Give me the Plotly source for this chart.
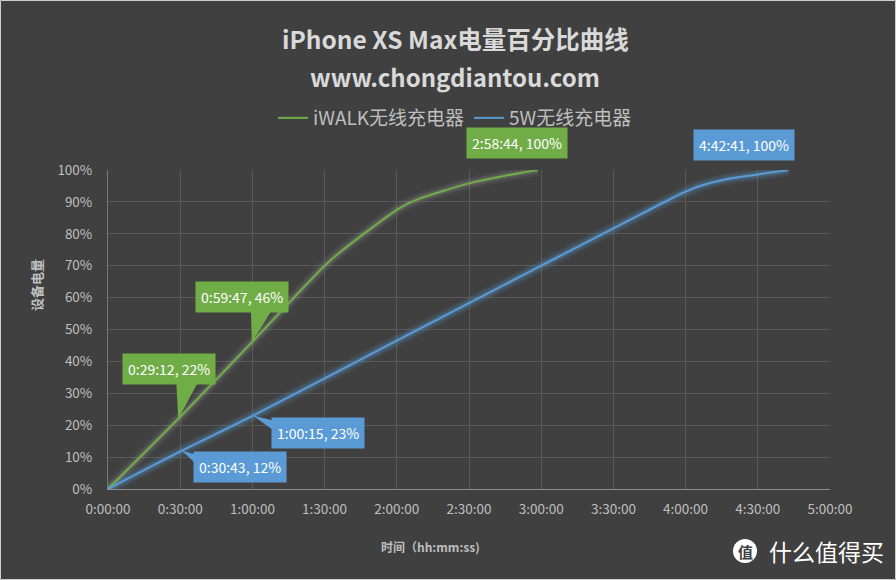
import plotly.graph_objects as go

# ---------------- data ----------------
green_name = "iWALK无线充电器"
blue_name = "5W无线充电器"

green_times = ["0:00:00", "0:29:12", "0:59:47", "1:30:00", "1:36:00", "2:00:00",
               "2:05:00", "2:10:00", "2:20:00", "2:30:00", "2:45:00", "2:58:44"]
green_pct = [0, 22, 46, 70, 74, 87.5, 89.6, 91.2, 93.6, 95.8, 98.2, 100]

blue_times = ["0:00:00", "0:30:43", "1:00:15", "2:00:00", "3:00:00", "3:30:00",
              "3:50:00", "4:00:00", "4:06:00", "4:15:00", "4:30:00", "4:42:41"]
blue_pct = [0, 12, 23, 46.5, 70, 81.7, 89.5, 93.2, 95.0, 96.8, 98.6, 100]

x_tick_labels = ["0:00:00", "0:30:00", "1:00:00", "1:30:00", "2:00:00", "2:30:00",
                 "3:00:00", "3:30:00", "4:00:00", "4:30:00", "5:00:00"]
y_tick_values = [0, 10, 20, 30, 40, 50, 60, 70, 80, 90, 100]

callout_times = ["0:29:12", "0:59:47", "2:58:44", "4:42:41", "1:00:15", "0:30:43"]
callout_pct = [22, 46, 100, 100, 23, 12]
callout_series = ["g", "g", "g", "b", "b", "b"]

# ---------------- styles ----------------
BG = "#404040"
GRID = "#595959"
GREEN = "#70AD47"
BLUE = "#5B9BD5"
TXT = "#bfbfbf"
FONT = "Microsoft YaHei, Noto Sans CJK SC, sans-serif"

# callout box offsets (pixels) and wedge geometry (pixels relative to point, y up)
callout_shift = [(-9, 50), (-9.5, 45.5), (-21.5, 27.5), (-44, 25), (64.5, -17.5), (58, -16.5)]
callout_wedge = [
    [(0, 0), (-2, 37), (20, 37)],
    [(0, 0), (-1, 32), (20, 32)],
    [(0, 0), (-14, 15), (14, 15)],
    [(0, 0), (-33, 13), (-10, 13)],
    [(0, 0), (21, -5), (21, -15)],
    [(0, 0), (15, -4), (15, -14)],
]


def to_min(t):
    h, m, s = (int(v) for v in t.split(":"))
    return h * 60 + m + s / 60.0


def to_label(t, p):
    return f"{t}, {p}%"


gx = [to_min(t) for t in green_times]
bx = [to_min(t) for t in blue_times]
x_tick_vals = [to_min(t) for t in x_tick_labels]

fig = go.Figure()

# glow layers
for w, ga, ba in [(12, 0.05, 0.10), (8, 0.07, 0.14), (5, 0.09, 0.18)]:
    fig.add_trace(go.Scatter(x=gx, y=green_pct, mode="lines", showlegend=False, hoverinfo="skip",
                             line=dict(color=f"rgba(215,215,215,{ga})", width=w, shape="spline", smoothing=0.9)))
    fig.add_trace(go.Scatter(x=bx, y=blue_pct, mode="lines", showlegend=False, hoverinfo="skip",
                             line=dict(color=f"rgba(91,155,213,{ba})", width=w, shape="spline", smoothing=0.9)))

fig.add_trace(go.Scatter(x=gx, y=green_pct, mode="lines", name=green_name,
                         line=dict(color=GREEN, width=2, shape="spline", smoothing=0.9)))
fig.add_trace(go.Scatter(x=bx, y=blue_pct, mode="lines", name=blue_name,
                         line=dict(color=BLUE, width=2, shape="spline", smoothing=0.9)))

shapes = []
annotations = []
for t, p, s, (dx, dy), wedge in zip(callout_times, callout_pct, callout_series, callout_shift, callout_wedge):
    col = GREEN if s == "g" else BLUE
    xm = to_min(t)
    path = "M " + " L ".join(f"{px},{py}" for px, py in wedge) + " Z"
    shapes.append(dict(type="path", xref="x", yref="y", xsizemode="pixel", ysizemode="pixel",
                       xanchor=xm, yanchor=p, path=path, fillcolor=col, line=dict(width=0), layer="above"))
    annotations.append(dict(x=xm, y=p, xref="x", yref="y", text=to_label(t, p), showarrow=False,
                            xanchor="center", yanchor="middle",
                            xshift=dx, yshift=dy, bgcolor=col, borderpad=5,
                            font=dict(family=FONT, size=14, color="white")))


def px_x(v):
    return (v - 108) / 722.0


def px_y(v):
    return (489 - v) / 319.0


def paper_text(xp, yp, text, size, color, angle=0):
    return dict(x=px_x(xp), y=px_y(yp), xref="paper", yref="paper", showarrow=False,
                xanchor="center", yanchor="middle", text=text, textangle=angle,
                font=dict(family=FONT, size=size, color=color))


# titles
annotations.append(paper_text(455, 38, "<b>iPhone XS Max电量百分比曲线</b>", 24.5, "#d9d9d9"))
annotations.append(paper_text(455, 77, "<b>www.chongdiantou.com</b>", 24, "#d9d9d9"))
# axis titles
annotations.append(paper_text(430, 546, "<b>时间（hh:mm:ss)</b>", 12, TXT))
annotations.append(paper_text(36, 285, "<b>设备电量</b>", 13, TXT, -90))
# watermark
shapes.append(dict(type="circle", xref="paper", yref="paper", xsizemode="pixel", ysizemode="pixel",
                   xanchor=px_x(745), yanchor=px_y(551), x0=-12, x1=12, y0=-12, y1=12,
                   fillcolor="white", line=dict(width=0)))
annotations.append(paper_text(745, 551, "<b>值</b>", 15, BG))
annotations.append(paper_text(826, 551, "什么值得买", 23, "white"))
# outer border
shapes.append(dict(type="rect", xref="paper", yref="paper",
                   x0=px_x(0.5), x1=px_x(895.5), y0=px_y(579.5), y1=px_y(0.5),
                   line=dict(color="#cfcfcf", width=1), layer="below"))

fig.update_layout(
    width=896, height=580,
    margin=dict(l=108, r=66, t=170, b=91),
    paper_bgcolor=BG, plot_bgcolor=BG,
    font=dict(family=FONT, color=TXT),
    showlegend=True,
    legend=dict(orientation="h", x=px_x(455), xanchor="center", yref="container", y=1 - 118 / 580,
                yanchor="middle", font=dict(family=FONT, size=19, color=TXT), bgcolor="rgba(0,0,0,0)",
                itemwidth=30, tracegroupgap=0),
    shapes=shapes,
    annotations=annotations,
    xaxis=dict(range=[0, 300], tickvals=x_tick_vals, ticktext=x_tick_labels, showgrid=True,
               gridcolor=GRID, gridwidth=1, zeroline=False, showline=True, linecolor="#8c8c8c",
               linewidth=1, ticks="", tickfont=dict(family=FONT, size=13.5, color=TXT),
               ticklabelstandoff=8, fixedrange=True),
    yaxis=dict(range=[0, 100], tickvals=y_tick_values, ticktext=[f"{v}%" for v in y_tick_values],
               showgrid=True, gridcolor=GRID, gridwidth=1, zeroline=False, showline=True,
               linecolor="#7a7a7a", linewidth=1, ticks="", tickfont=dict(family=FONT, size=13.5, color=TXT),
               ticklabelstandoff=12, fixedrange=True),
)

fig.write_html("out.html", config={"displayModeBar": False},
               post_script="document.body.style.margin='0';document.body.style.overflow='hidden';")
